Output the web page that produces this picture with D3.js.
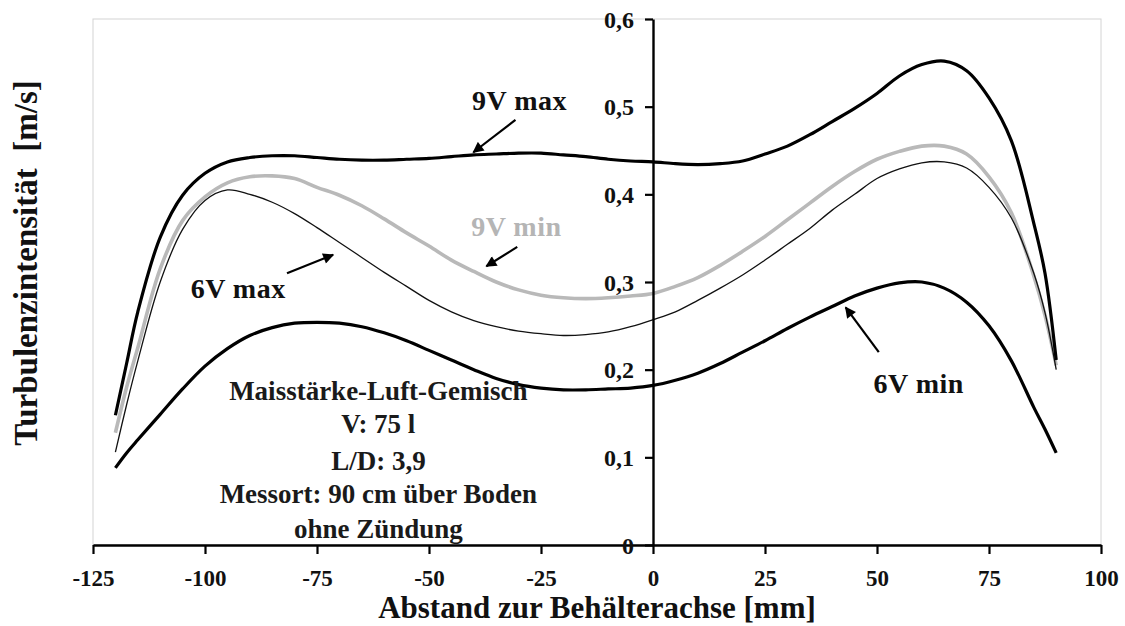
<!DOCTYPE html>
<html>
<head>
<meta charset="utf-8">
<script src="https://cdn.jsdelivr.net/npm/d3@7"></script>
<style>
  html, body { margin: 0; padding: 0; background: #fff; }
  svg { display: block; }
  text { font-family: "Liberation Serif", "Times New Roman", serif; font-weight: bold; }
</style>
</head>
<body>
<svg id="chart" width="1125" height="626"></svg>
<script>
// Distance from the vessel axis [mm]
const positions = [-120, -117.5, -115, -110, -105, -100, -95, -90, -85, -80, -75, -70, -65, -60, -55, -50,
  -45, -40, -35, -30, -25, -20, -15, -10, -5, 0, 5, 10, 15, 20, 25, 30, 35, 40, 45, 50, 55, 60, 65, 70, 75,
  80, 85, 87.5, 90];

// Turbulence intensity [m/s]
const max9V = [0.148, 0.207, 0.266, 0.351, 0.399, 0.424, 0.437, 0.442, 0.444, 0.444, 0.442, 0.440, 0.439,
  0.439, 0.440, 0.441, 0.443, 0.445, 0.446, 0.447, 0.447, 0.445, 0.443, 0.440, 0.438, 0.437, 0.435, 0.434,
  0.435, 0.438, 0.446, 0.455, 0.468, 0.483, 0.498, 0.515, 0.535, 0.548, 0.552, 0.541, 0.510, 0.461, 0.367,
  0.310, 0.211];
const min9V = [0.128, 0.180, 0.225, 0.315, 0.370, 0.397, 0.413, 0.420, 0.421, 0.418, 0.408, 0.399, 0.387,
  0.372, 0.356, 0.341, 0.325, 0.312, 0.300, 0.291, 0.285, 0.282, 0.281, 0.282, 0.284, 0.287, 0.295, 0.305,
  0.319, 0.335, 0.352, 0.371, 0.390, 0.409, 0.426, 0.440, 0.449, 0.455, 0.455, 0.446, 0.420, 0.379, 0.307,
  0.262, 0.205];
const max6V = [0.106, 0.160, 0.210, 0.300, 0.360, 0.393, 0.405, 0.400, 0.391, 0.378, 0.362, 0.345, 0.328,
  0.311, 0.295, 0.279, 0.266, 0.256, 0.249, 0.244, 0.241, 0.239, 0.240, 0.243, 0.249, 0.257, 0.266, 0.279,
  0.293, 0.308, 0.325, 0.343, 0.361, 0.382, 0.400, 0.418, 0.429, 0.436, 0.437, 0.430, 0.408, 0.373, 0.310,
  0.265, 0.200];
const min6V = [0.088, 0.105, 0.120, 0.149, 0.178, 0.204, 0.224, 0.239, 0.248, 0.253, 0.254, 0.253, 0.249,
  0.242, 0.233, 0.222, 0.211, 0.200, 0.190, 0.183, 0.179, 0.177, 0.177, 0.178, 0.179, 0.182, 0.188, 0.196,
  0.207, 0.220, 0.233, 0.247, 0.260, 0.272, 0.284, 0.293, 0.299, 0.300, 0.293, 0.277, 0.250, 0.210, 0.157,
  0.132, 0.105];

const xTicks = [-125, -100, -75, -50, -25, 0, 25, 50, 75, 100];
const yTicks = [0, 0.1, 0.2, 0.3, 0.4, 0.5, 0.6];

const xTitle = "Abstand zur Behälterachse [mm]";
const yTitle = "Turbulenzintensität  [m/s]";
const infoLines = ["Maisstärke-Luft-Gemisch", "V: 75 l", "L/D: 3,9", "Messort: 90 cm über Boden", "ohne Zündung"];

const svg = d3.select("#chart");
const x = d3.scaleLinear().domain([-125, 100]).range([93, 1101]);
const y = d3.scaleLinear().domain([0, 0.6]).range([545, 19]);

// Plot frame
svg.append("rect")
  .attr("x", x(-125)).attr("y", y(0.6))
  .attr("width", x(100) - x(-125)).attr("height", y(0) - y(0.6))
  .attr("fill", "none").attr("stroke", "#d4d4d4").attr("stroke-width", 1);

// Curves
const line = d3.line()
  .x(d => x(d[0])).y(d => y(d[1]))
  .curve(d3.curveCatmullRom.alpha(0.5));
const series = [
  { values: min9V, color: "#b9b9b9", width: 3.6 },
  { values: max6V, color: "#111", width: 1.3 },
  { values: max9V, color: "#000", width: 3.2 },
  { values: min6V, color: "#000", width: 3.2 }
];
svg.append("g").selectAll("path").data(series).join("path")
  .attr("d", s => line(positions.map((p, i) => [p, s.values[i]])))
  .attr("fill", "none")
  .attr("stroke", s => s.color)
  .attr("stroke-width", s => s.width)
  .attr("stroke-linejoin", "round")
  .attr("stroke-linecap", "butt");

// Axes
const xAxis = svg.append("g")
  .attr("transform", `translate(0,${y(0)})`)
  .call(d3.axisBottom(x).tickValues(xTicks).tickSize(9).tickSizeOuter(0).tickFormat(d3.format("d")));
xAxis.select(".domain").attr("stroke", "#000").attr("stroke-width", 2.4);
xAxis.selectAll(".tick line").attr("stroke", "#000").attr("stroke-width", 2.2);
xAxis.selectAll(".tick text")
  .attr("y", 41).attr("dy", 0)
  .attr("fill", "#111").style("font-size", "23px")
  .text(d => d < 0 ? "-" + Math.abs(d) : d);

const yAxis = svg.append("g")
  .attr("transform", `translate(${x(0)},0)`)
  .call(d3.axisLeft(y).tickValues(yTicks).tickSize(8).tickSizeOuter(0)
    .tickFormat(d => d === 0 ? "0" : d3.format(".1f")(d).replace(".", ",")));
yAxis.select(".domain").attr("stroke", "#000").attr("stroke-width", 2.4);
yAxis.selectAll(".tick line").attr("stroke", "#000").attr("stroke-width", 2.2);
yAxis.selectAll(".tick text")
  .attr("x", -19).attr("dy", "0.34em")
  .attr("fill", "#111").style("font-size", "24px");

// Axis titles
svg.append("text")
  .attr("x", (x(-125) + x(100)) / 2).attr("y", 618)
  .attr("text-anchor", "middle")
  .style("font-size", "31px").attr("fill", "#111")
  .text(xTitle);
svg.append("text")
  .attr("transform", "translate(37,263) rotate(-90)")
  .attr("text-anchor", "middle")
  .style("font-size", "33px").style("white-space", "pre").attr("fill", "#111")
  .text(yTitle);

// Series labels with arrows
svg.append("defs").append("marker")
  .attr("id", "head").attr("viewBox", "0 0 10 10")
  .attr("refX", 9).attr("refY", 5)
  .attr("markerWidth", 5.5).attr("markerHeight", 5)
  .attr("markerUnits", "strokeWidth")
  .attr("orient", "auto")
  .append("path").attr("d", "M0,0 L10,5 L0,10 z").attr("fill", "#000");

const labels = [
  { text: "9V max", tx: -29.8, ty: 0.496, color: "#111", from: [-30.7, 0.485], to: [-40.1, 0.448] },
  { text: "9V min", tx: -30.5, ty: 0.353, color: "#b5b5b5", from: [-30.3, 0.340], to: [-37.2, 0.318] },
  { text: "6V max", tx: -92.6, ty: 0.282, color: "#111", from: [-81.7, 0.310], to: [-71.4, 0.331] },
  { text: "6V min", tx: 59.3, ty: 0.173, color: "#111", from: [50.4, 0.220], to: [43.0, 0.271] }
];
svg.append("g").selectAll("line").data(labels).join("line")
  .attr("x1", d => x(d.from[0])).attr("y1", d => y(d.from[1]))
  .attr("x2", d => x(d.to[0])).attr("y2", d => y(d.to[1]))
  .attr("stroke", "#000").attr("stroke-width", 2.2)
  .attr("marker-end", "url(#head)");
svg.append("g").selectAll("text").data(labels).join("text")
  .attr("x", d => x(d.tx)).attr("y", d => y(d.ty))
  .attr("text-anchor", "middle")
  .style("font-size", "28px").style("letter-spacing", "0.5px")
  .attr("fill", d => d.color)
  .text(d => d.text);

// Test conditions
svg.append("g").selectAll("text").data(infoLines).join("text")
  .attr("x", x(-61.3))
  .attr("y", (d, i) => [400, 433, 470, 503, 538][i])
  .attr("text-anchor", "middle")
  .style("font-size", "27px").attr("fill", "#1a1a1a")
  .text(d => d);
</script>
</body>
</html>
